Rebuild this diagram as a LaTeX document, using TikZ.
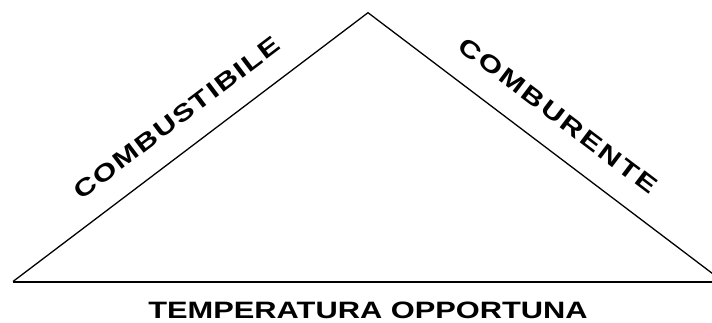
\documentclass[tikz,border=0pt]{standalone}
\usepackage{fontspec}
\newfontfamily\lblfont[FakeStretch=1.3]{Liberation Sans Bold}
\ExplSyntaxOn
\NewDocumentCommand\spacedtext{ m m }
  {
    \tl_map_inline:nn { #2 } { ##1 \kern #1 }
    \unkern
  }
\ExplSyntaxOff
\begin{document}
\begin{tikzpicture}[x=1pt,y=-1pt,
  sideline/.style={line width=1.3pt, line join=miter},
  baseline/.style={line width=2pt},
  lbl/.style={font=\lblfont\fontsize{23.7pt}{28pt}\selectfont, inner sep=0pt}]
\useasboundingbox (0,0) rectangle (712,322);
\clip (0,0) rectangle (712,322);
\coordinate (A) at (368,12.7);
\coordinate (L) at (13,281.5);
\coordinate (R) at (723,281.5);
\draw[sideline] (L) -- (A) -- (R);
\draw[baseline] (L) -- (R);
\path (L) -- (A) node[lbl, pos=0.515, sloped, above=23pt] (comb) {\spacedtext{1.6pt}{COMBUSTIBILE}};
\path (A) -- (R) node[lbl, pos=0.48, sloped, above=24pt] (comburente) {\spacedtext{2.4pt}{COMBURENTE}};
\node[lbl, anchor=base] (temp) at (368,318.5) {TEMPERATURA OPPORTUNA};
\end{tikzpicture}
\end{document}
